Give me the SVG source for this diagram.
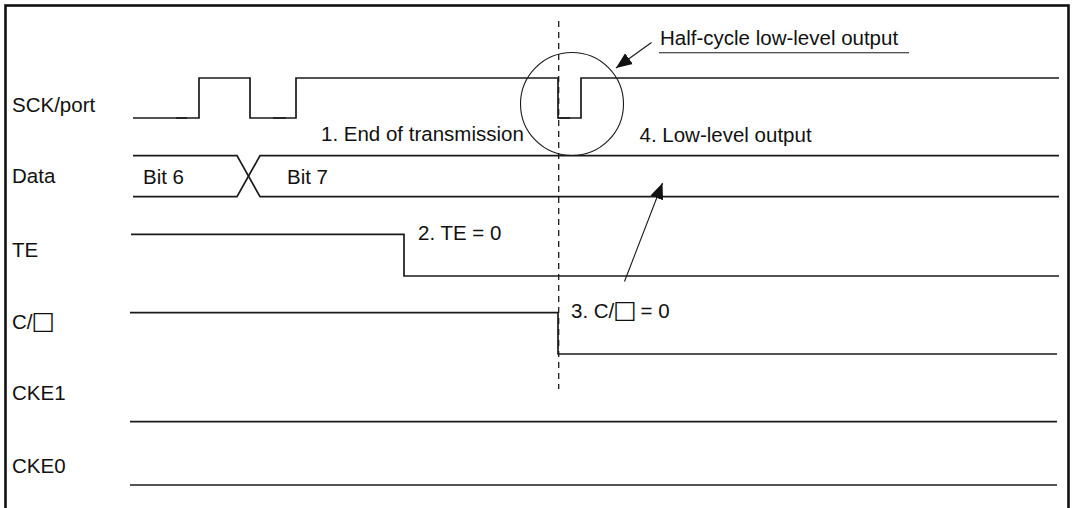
<svg xmlns="http://www.w3.org/2000/svg" width="1073" height="508" viewBox="0 0 1073 508">
<defs>
<style>
text{font-family:"Liberation Sans",Arial,"DejaVu Sans",sans-serif;font-size:20.5px;fill:#111}
.sq{font-family:"DejaVu Sans",sans-serif;font-size:25px}
.sig{fill:none;stroke:#1a1a1a;stroke-width:1.7}
.thin{fill:none;stroke:#1a1a1a;stroke-width:1.1}
.dash{fill:none;stroke:#1a1a1a;stroke-width:1.3;stroke-dasharray:6 5}
</style>
<marker id="ah" viewBox="0 0 10 10" refX="10" refY="5" markerWidth="16" markerHeight="16" markerUnits="userSpaceOnUse" orient="auto">
<path d="M0,0.8 L10,5 L0,9.2 Z" fill="#111"/>
</marker>
</defs>
<rect width="1073" height="508" fill="#fff"/>
<rect x="5.5" y="5.5" width="1063" height="512" fill="none" stroke="#111" stroke-width="2.6"/>

<g id="labels">
<text x="12" y="112">SCK/port</text>
<text x="12" y="183">Data</text>
<text x="12" y="257">TE</text>
<text x="12" y="329">C/<tspan class="sq" dx="-1">□</tspan></text>
<text x="12" y="400">CKE1</text>
<text x="12" y="473">CKE0</text>
</g>

<g id="sck">
<path class="sig" d="M133,118 H199 V78 H250 V118 H296 V78 H558 V118 H581 V78 H1059"/>
<path class="sig" stroke-width="2.6" d="M176,118 H187 M273,118 H286 M558,118 H570"/>
</g>

<g id="data">
<path class="sig" d="M133,155.7 H237 L260,196.7 H1059"/>
<path class="sig" d="M133,196.7 H237 L260,155.7 H1059"/>
<text x="143" y="184">Bit 6</text>
<text x="287" y="184">Bit 7</text>
</g>

<g id="te">
<path class="sig" d="M131,234.3 H404 V276 H1059"/>
<text x="418" y="239.5">2. TE = 0</text>
</g>

<g id="cd">
<path class="sig" d="M130,312.7 H558 V354 H1057"/>
<text x="571" y="318">3. C/<tspan class="sq" dx="-1">□</tspan><tspan dx="-2"> = 0</tspan></text>
</g>

<g id="cke1"><path class="sig" d="M130,421.7 H1057"/></g>
<g id="cke0"><path class="sig" d="M130,485 H1057"/></g>

<g id="annotations">
<text x="321" y="141">1. End of transmission</text>
<text x="639.5" y="142">4. Low-level output</text>
<text x="660" y="45">Half-cycle low-level output</text>
<line class="thin" x1="659" y1="52.7" x2="909" y2="52.7"/>
<circle class="thin" cx="572" cy="104" r="51.5"/>
</g>

<g id="connectors">
<line class="dash" x1="558.7" y1="21" x2="558.7" y2="389"/>
<line class="thin" x1="651.5" y1="42.5" x2="616" y2="68" marker-end="url(#ah)"/>
<line class="thin" x1="624.5" y1="281.5" x2="662.5" y2="183" marker-end="url(#ah)"/>
</g>
</svg>
